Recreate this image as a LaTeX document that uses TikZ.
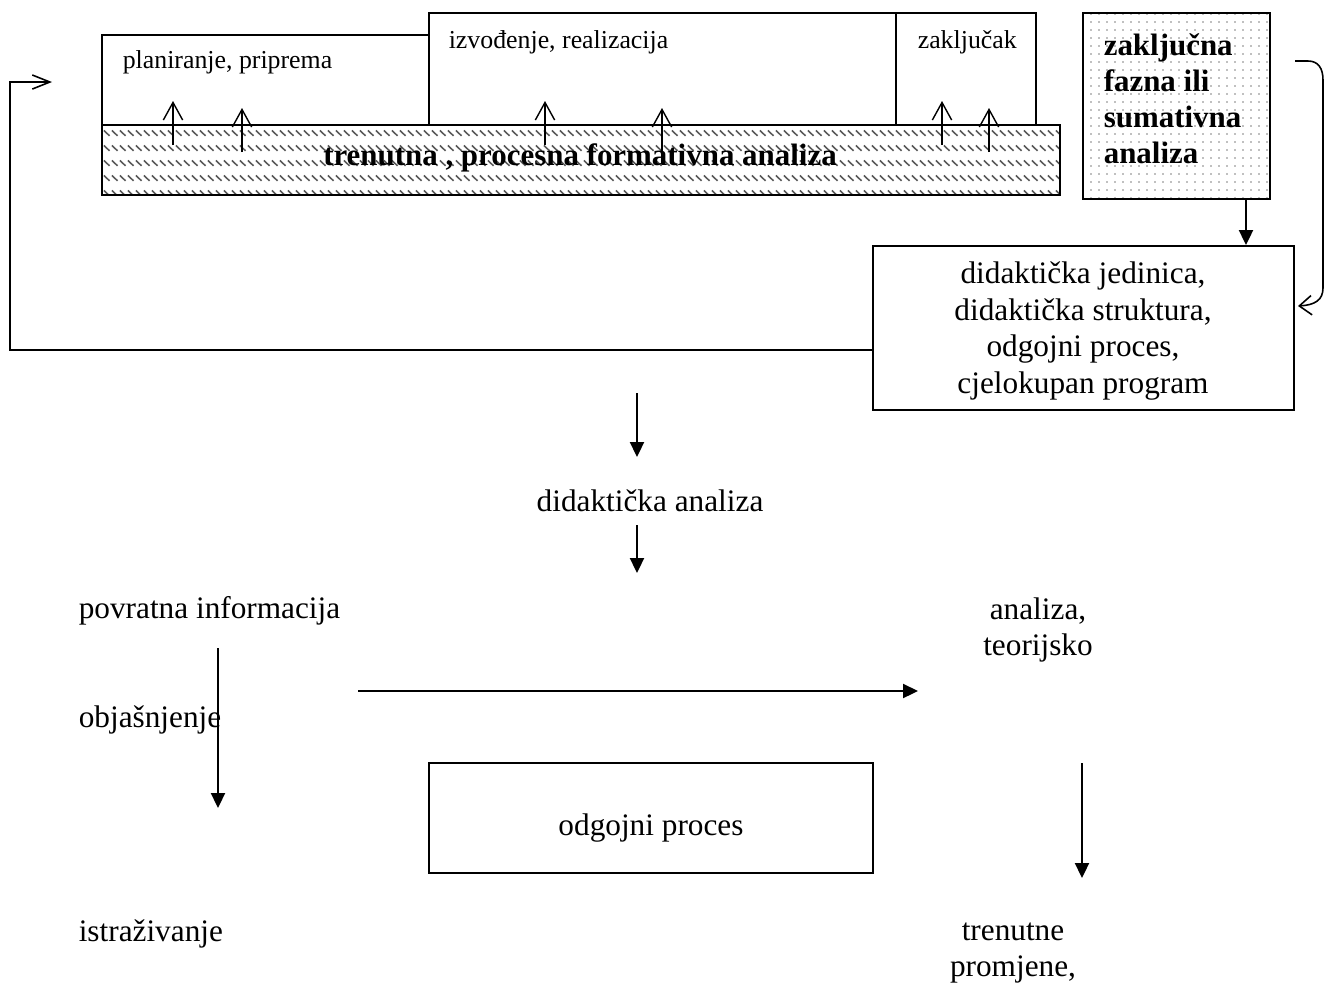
\documentclass[tikz,border=0pt]{standalone}
\usepackage{fontspec}
\setmainfont{Liberation Serif}
\usetikzlibrary{arrows.meta,fit,patterns}

% short diagonal dashes, rows
\pgfdeclarepatternformonly{dashhatch}{\pgfqpoint{0pt}{0pt}}{\pgfqpoint{4.55pt}{8.3pt}}{\pgfqpoint{4.55pt}{8.3pt}}{%
  \pgfsetlinewidth{0.9pt}%
  \pgfpathmoveto{\pgfqpoint{0.5pt}{4.4pt}}%
  \pgfpathlineto{\pgfqpoint{3.7pt}{1.3pt}}%
  \pgfusepath{stroke}}
% fine dot grid
\pgfdeclarepatternformonly{finedots}{\pgfqpoint{0pt}{0pt}}{\pgfqpoint{4.55pt}{4.55pt}}{\pgfqpoint{4.55pt}{4.55pt}}{%
  \pgfpathcircle{\pgfqpoint{2.27pt}{2.27pt}}{0.45pt}%
  \pgfusepath{fill}}

\begin{document}
\begin{tikzpicture}[x=0.2mm, y=-0.2mm, line width=0.9pt,
  box/.style={draw, line width=1.1pt, inner sep=0pt},
  txt/.style={inner sep=0pt, font=\fontsize{17.8}{21}\selectfont},
  smalltxt/.style={inner sep=0pt, font=\fontsize{14.7}{17}\selectfont},
  boldtxt/.style={inner sep=0pt, font=\fontsize{17.6}{20.5}\selectfont\bfseries},
  barb/.style={-{Straight Barb[length=10pt, width=11pt]}, line width=0.8pt},
  tri/.style={-{Triangle[length=8.5pt, width=8pt]}, line width=1pt}]

  \useasboundingbox (0,0) rectangle (1332,985);

  % -- Phase boxes --
  \node[box, fit={(102,35) (429,125)}] (plan) {};
  \node[box, fit={(429,13) (896,125)}] (izv) {};
  \node[box, fit={(896,13) (1036,125)}] (zak) {};
  \node[smalltxt, anchor=base west] (plantxt) at (122,68) {planiranje, priprema};
  \node[smalltxt, anchor=base west] (izvtxt) at (448,48) {izvođenje, realizacija};
  \node[smalltxt, anchor=base west] (zaktxt) at (917,48) {zaključak};

  % -- Formative analysis bar --
  \node[box, pattern=dashhatch, pattern color=gray!70!black, fit={(102,125) (1060,195)}] (bar) {};
  \node[boldtxt, anchor=base] (bartxt) at (580,165) {trenutna , procesna formativna analiza};

  % -- Upward arrows --
  \foreach \x/\y in {173/101, 242/108, 545/101, 662/108, 942/101, 989/108} {
    \coordinate (up\x) at (\x,\y);
    \draw[barb] (\x,\y+44) -- (up\x);
  }

  % -- Summative analysis --
  \node[box, pattern=finedots, pattern color=gray, fit={(1083,13) (1270,199)}] (sum) {};
  \node[boldtxt, align=left, anchor=west] (sumtxt) at (1103,99) {zaključna\\fazna ili\\sumativna\\analiza};

  % -- Didactic unit --
  \node[box, fit={(873,246) (1294,410)}] (unit) {};
  \node[txt, align=center] (unittxt) at (1083,331) {didaktička jedinica,\\didaktička struktura,\\odgojni proces,\\cjelokupan program};
  \coordinate (sumx) at (1246,0);
  \draw[tri] (sum.south -| sumx) -- (unit.north -| sumx);

  % -- Feedback loop --
  \coordinate (loopcorner) at (10,350);
  \coordinate (loopend) at (52,82);
  \draw[-{Straight Barb[length=10pt, width=8pt]}] (unit.west |- loopcorner) -- (loopcorner) |- (loopend);

  % -- Bracket --
  \coordinate (bracetop) at (1295,61);
  \coordinate (bracebot) at (1298,306);
  \draw[-{Straight Barb[length=7pt, width=11pt]}] (bracetop) -- (1308,61)
    .. controls (1318,61) and (1323,68) .. (1323,80) -- (1323,288)
    .. controls (1323,300) and (1315,305) .. (bracebot);

  % -- Didactic analysis --
  \coordinate (d1) at (637,393);
  \coordinate (d2) at (637,457);
  \draw[tri] (d1) -- (d2);
  \node[txt, anchor=base] (dan) at (650,511) {didaktička analiza};
  \coordinate (d3) at (637,525);
  \coordinate (d4) at (637,573);
  \draw[tri] (d3) -- (d4);

  % -- Cycle --
  \node[txt, anchor=base west] (povr) at (78,618) {povratna informacija};
  \node[txt, anchor=base west] (obj) at (78,727) {objašnjenje};
  \node[txt, anchor=base west] (istr) at (78,941) {istraživanje};
  \node[txt, align=center] (anal) at (1038,630) {analiza,\\teorijsko};
  \node[txt, align=center] (prom) at (1013,953) {trenutne\\promjene,};
  \node[box, fit={(429,763) (873,873)}] (odg) {};
  \node[txt] (odgtxt) at (651,828) {odgojni proces};

  \coordinate (o1) at (218,648);
  \coordinate (o2) at (218,808);
  \draw[tri] (o1) -- (o2);
  \coordinate (h1) at (358,691);
  \coordinate (h2) at (918,691);
  \draw[tri] (h1) -- (h2);
  \coordinate (t1) at (1082,763);
  \coordinate (t2) at (1082,878);
  \draw[tri] (t1) -- (t2);

\end{tikzpicture}
\end{document}
